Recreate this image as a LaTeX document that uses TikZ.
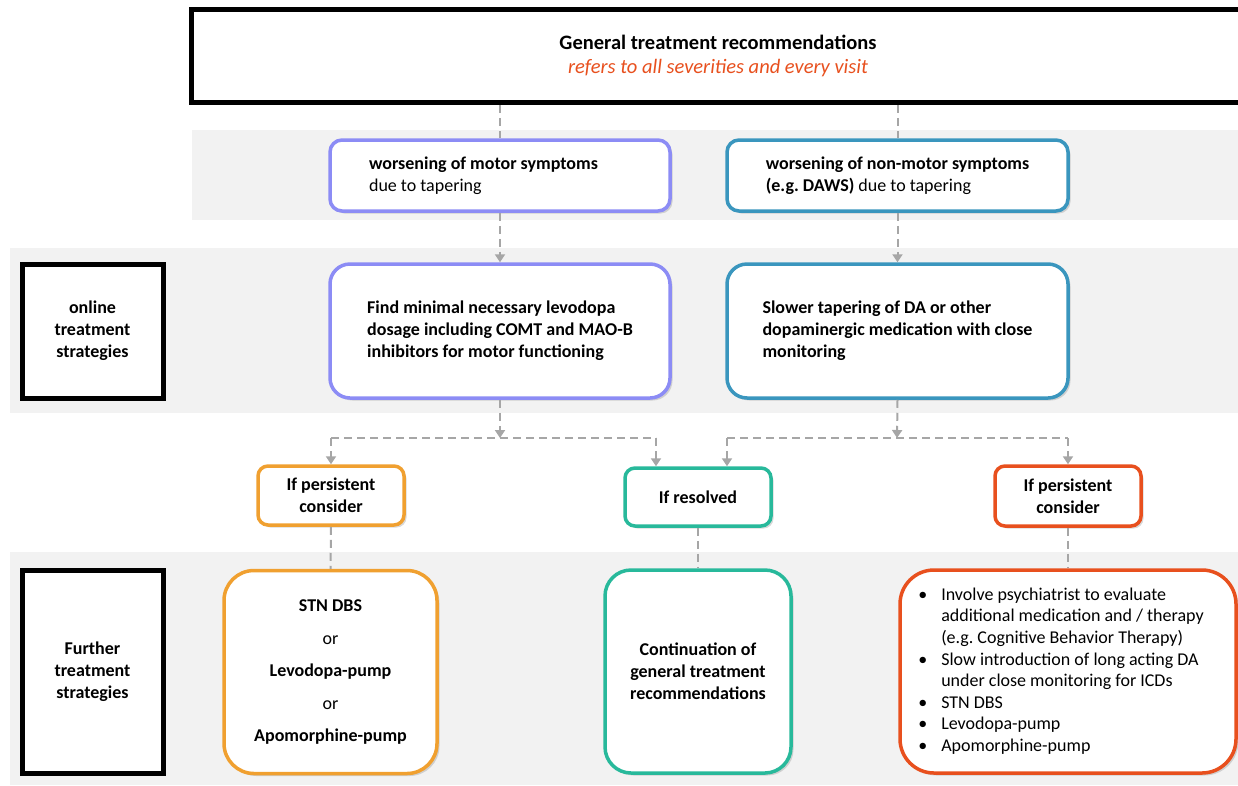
\documentclass[tikz,border=0pt]{standalone}
\usepackage{fontspec}
\setmainfont{Carlito}
\usetikzlibrary{arrows.meta,shadows}
\definecolor{lavender}{HTML}{8C8CF5}
\definecolor{petrol}{HTML}{3A96BE}
\definecolor{amber}{HTML}{F0A030}
\definecolor{mint}{HTML}{28B99B}
\definecolor{rust}{HTML}{E8501E}
\definecolor{band}{HTML}{F2F2F2}
\definecolor{dashgray}{HTML}{A6A6A6}
\frenchspacing

\begin{document}
\begin{tikzpicture}[x=1pt, y=-1pt,
    every node/.style={font=\fontsize{18}{22}\selectfont, inner sep=0pt},
    box/.style={draw=#1, line width=3.5pt, fill=white,
      drop shadow={shadow xshift=2.5pt, shadow yshift=-2.5pt, opacity=0.3}},
    blackbox/.style={draw=black, line width=5pt, fill=white, align=center,
      font=\fontsize{18}{22}\selectfont\bfseries,
      drop shadow={shadow xshift=2.5pt, shadow yshift=-2.5pt, opacity=0.3}},
    dline/.style={draw=dashgray, line width=2pt, dash pattern=on 8pt off 5pt},
    arr/.style={dline, -{Triangle[width=10pt,length=8pt]}}]
  \useasboundingbox (0,0) rectangle (1238,785);
  % Background bands
  \fill[band] (192,130) rectangle (1238,220);
  \fill[band] (10,248) rectangle (1238,413);
  \fill[band] (10,552) rectangle (1238,785);
  % Header
  \node[blackbox, minimum width=1053, minimum height=93,
    font=\fontsize{20.5}{24}\selectfont\bfseries] (top) at (718,56)
    {General treatment recommendations\\
     {\mdseries\itshape\color{rust}refers to all severities and every visit}};
  % Row labels
  \node[blackbox, minimum width=141, minimum height=134] (online) at (92.5,331)
    {online\\treatment\\strategies};
  \node[blackbox, minimum width=141, minimum height=203] (further) at (92.5,671.5)
    {Further\\treatment\\strategies};
  % Symptom boxes
  \node[box=lavender, rounded corners=12pt, minimum width=340, minimum height=71,
    align=left] (motor) at (500,175.5)
    {\textbf{worsening of motor symptoms}\hspace*{33pt}\\due to tapering};
  \node[box=petrol, rounded corners=12pt, minimum width=341, minimum height=71,
    align=left] (nonmotor) at (897.5,175.5)
    {\textbf{worsening of non-motor symptoms}\\\textbf{(e.g. DAWS)} due to tapering};
  % Online strategies
  \node[box=lavender, rounded corners=20pt, minimum width=340, minimum height=134,
    align=left, font=\fontsize{18}{22}\selectfont\bfseries] (levodopa) at (500,331)
    {Find minimal necessary levodopa\\dosage including COMT and MAO-B\\inhibitors for motor functioning};
  \node[box=petrol, rounded corners=20pt, minimum width=341, minimum height=134,
    align=left, font=\fontsize{18}{22}\selectfont\bfseries] (slower) at (897.5,331)
    {Slower tapering of DA or other\\dopaminergic medication with close\\monitoring};
  % Decisions
  \node[box=amber, rounded corners=10pt, minimum width=146, minimum height=59,
    align=center, font=\fontsize{18}{22}\selectfont\bfseries] (persA) at (331,495.5)
    {If persistent\\consider};
  \node[box=mint, rounded corners=10pt, minimum width=146, minimum height=58,
    font=\fontsize{18}{22}\selectfont\bfseries] (resolved) at (698,497) {If resolved};
  \node[box=rust, rounded corners=10pt, minimum width=146, minimum height=60,
    align=center, font=\fontsize{18}{22}\selectfont\bfseries] (persB) at (1068,496)
    {If persistent\\consider};
  % Further strategies
  \node[box=amber, rounded corners=30pt, minimum width=213, minimum height=203,
    align=center, font=\fontsize{18}{32.5}\selectfont\bfseries] (pumps) at (330.5,672)
    {STN DBS\\{\mdseries or}\\Levodopa-pump\\{\mdseries or}\\Apomorphine-pump};
  \node[box=mint, rounded corners=26pt, minimum width=186, minimum height=203,
    align=center, font=\fontsize{18}{22}\selectfont\bfseries] (cont) at (698,671.5)
    {Continuation of\\general treatment\\recommendations};
  \node[box=rust, rounded corners=34pt, minimum width=336, minimum height=203,
    font=\fontsize{18}{21.6}\selectfont] (psych) at (1068,671.5)
    {\begin{tabular}{@{}p{16pt}@{\hspace{7pt}}l@{\hspace{14pt}}}
      \textbullet & Involve psychiatrist to evaluate\\
                  & additional medication and / therapy\\
                  & (e.g. Cognitive Behavior Therapy)\\
      \textbullet & Slow introduction of long acting DA\\
                  & under close monitoring for ICDs\\
      \textbullet & STN DBS\\
      \textbullet & Levodopa-pump\\
      \textbullet & Apomorphine-pump
    \end{tabular}};
  % Junction points
  \coordinate (jA) at (500,438);
  \coordinate (jB) at (897,438);
  \coordinate (kA) at (656,438);
  \coordinate (kB) at (727,438);
  % Connectors
  \draw[dline] (top.south -| motor.north) -- (motor.north);
  \draw[dline] (top.south -| nonmotor.north) -- (nonmotor.north);
  \draw[arr] (motor.south) -- (levodopa.north);
  \draw[arr] (nonmotor.south) -- (slower.north);
  \draw[arr] (levodopa.south) -- (jA);
  \draw[arr] (slower.south) -- (jB);
  \draw[dline] (jA -| persA.north) -- (kA);
  \draw[dline] (kB) -- (jB -| persB.north);
  \draw[arr] (jA -| persA.north) -- (persA.north);
  \draw[arr] (kA) -- (kA |- resolved.north);
  \draw[arr] (kB) -- (kB |- resolved.north);
  \draw[arr] (jB -| persB.north) -- (persB.north);
  \draw[dline] (persA.south) -- (pumps.north);
  \draw[dline] (resolved.south) -- (cont.north);
  \draw[dline] (persB.south) -- (psych.north);
\end{tikzpicture}
\end{document}
